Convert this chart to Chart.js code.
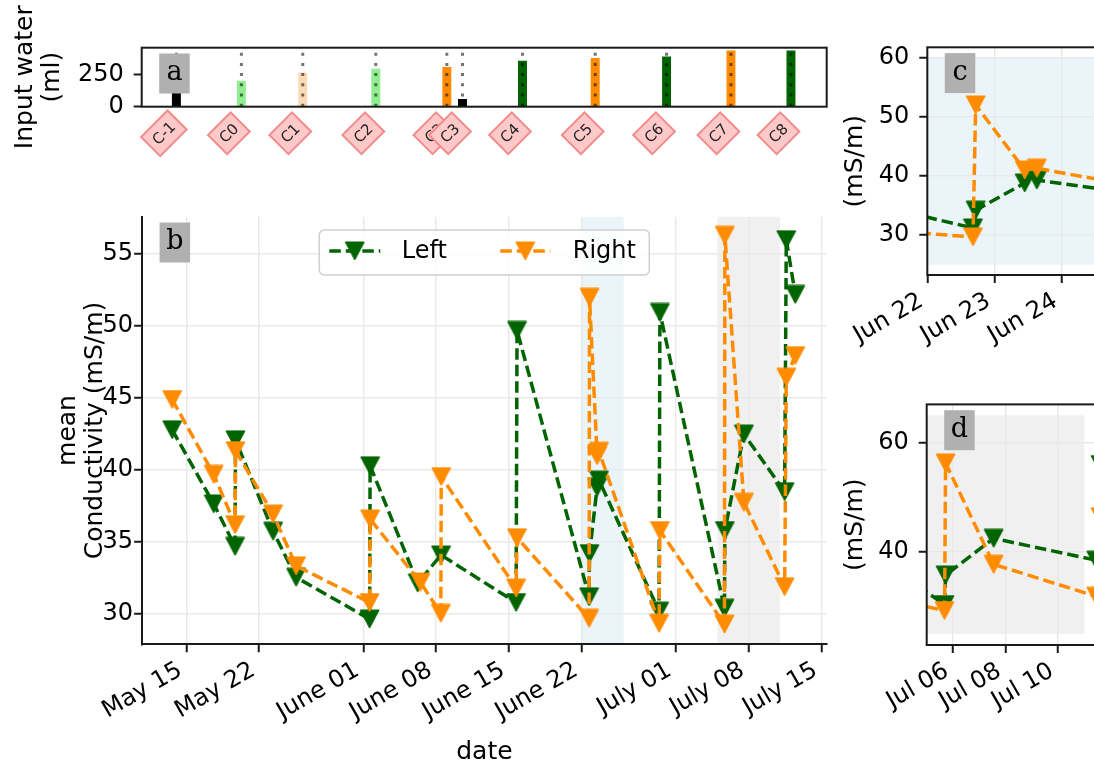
<!DOCTYPE html>
<html>
<head>
<meta charset="utf-8">
<script src="https://cdn.jsdelivr.net/npm/chart.js@4.4.0/dist/chart.umd.min.js"></script>
<style>
html,body{margin:0;padding:0;background:#fff;overflow:hidden;}
#fig{position:relative;width:1094px;height:766px;overflow:hidden;background:#fff;}
canvas{position:absolute;}
</style>
</head>
<body>
<div id="fig">
<canvas id="ca"></canvas>
<canvas id="cb"></canvas>
<canvas id="cc"></canvas>
<canvas id="cd"></canvas>
</div>
<script>
// ---------------- DATA (days counted from May 1, 00:00) ----------------
const xTickDays   = [14, 21, 31, 38, 45, 52, 61, 68, 75];
const xTickLabels = ['May 15', 'May 22', 'June 01', 'June 08', 'June 15', 'June 22', 'July 01', 'July 08', 'July 15'];
const condTicks   = [30, 35, 40, 45, 50, 55];

const leftDays   = [12.64, 16.63, 18.68, 18.72, 22.33, 24.54, 31.60, 31.65, 36.22, 38.46, 45.67, 45.76,
                    52.68, 52.72, 53.45, 53.63, 59.40, 59.48, 65.68, 65.72, 67.55, 71.46, 71.62, 72.48];
const leftValues = [42.8, 37.65, 34.7, 42.1, 35.75, 32.55, 29.65, 40.3, 32.15, 34.1, 30.8, 49.7,
                    31.2, 34.2, 38.8, 39.3, 30.2, 50.95, 30.4, 35.8, 42.5, 38.5, 56.0, 52.2];
const rightDays   = [12.64, 16.63, 18.68, 18.72, 22.33, 24.54, 31.60, 31.65, 36.48, 38.44, 38.48, 45.67, 45.76,
                     52.68, 52.72, 53.45, 53.63, 59.40, 59.48, 65.68, 65.72, 67.55, 71.46, 71.62, 72.48];
const rightValues = [44.9, 39.7, 36.2, 41.35, 36.95, 33.35, 30.8, 36.6, 32.2, 30.05, 39.55, 31.8, 35.3,
                     29.7, 52.0, 41.0, 41.3, 29.35, 35.8, 29.3, 56.3, 37.75, 31.9, 46.45, 47.95];

const waterLabels = ['C-1', 'C0', 'C1', 'C2', 'C3', 'C3', 'C4', 'C5', 'C6', 'C7', 'C8'];
const waterDays   = [13.08, 19.32, 25.21, 32.22, 39.04, 40.54, 46.30, 53.28, 60.13, 66.31, 72.07];
const waterValues = [105, 202, 267, 296, 310, 58, 359, 381, 393, 440, 440];
const waterTicks  = [0, 250];
const waterLineTop = 430;

const shadeBlue = {x0: 52, x1: 56, y0: 25, y1: 60};
const shadeGray = {x0: 65, x1: 71, y0: 25, y1: 65};

const cTickDays = [52, 53, 54];
const cTickLabels = ['Jun 22', 'Jun 23', 'Jun 24'];
const cYTicks = [30, 40, 50, 60];
const dTickDays = [66, 68, 70];
const dTickLabels = ['Jul 06', 'Jul 08', 'Jul 10'];
const dYTicks = [40, 60];

// ---------------- STYLE ----------------
const GREEN = '#006400', ORANGE = '#ff8c00';
const barColors = ['#000000', '#90ee90', '#fdd9b5', '#90ee90', '#ff8c00', '#000000', '#006400', '#ff8c00', '#006400', '#ff8c00', '#006400'];
const BLUE_SHADE = '#ebf4f8', GRAY_SHADE = '#f0f0f0';
const INK = '#1a1a1a', GRID = '#e9e9e9';
const FAMILY = "'DejaVu Sans', sans-serif";
const TICK_FONT = {family: FAMILY, size: 24};
const TITLE_FONT = {family: FAMILY, size: 25, lineHeight: 1.1};
const LINE_W = 3.5, DASH = [11.5, 5];

Chart.defaults.font.family = FAMILY;
Chart.defaults.font.size = 24;
Chart.defaults.color = '#000';

function triMarker(color, w, h) {
  const c = document.createElement('canvas');
  c.width = w + 2; c.height = h + 2;
  const g = c.getContext('2d');
  g.fillStyle = color; g.strokeStyle = color; g.lineWidth = 1; g.lineJoin = 'miter';
  g.beginPath(); g.moveTo(1, 1); g.lineTo(w + 1, 1); g.lineTo(w / 2 + 1, h + 1); g.closePath();
  g.fill(); g.stroke();
  return c;
}
const markG = triMarker(GREEN, 19, 18);
const markO = triMarker(ORANGE, 19, 18);

function place(id, box, area) {
  const c = document.getElementById(id);
  c.width = box[2]; c.height = box[3];
  c.style.left = box[0] + 'px'; c.style.top = box[1] + 'px';
  c.style.width = box[2] + 'px'; c.style.height = box[3] + 'px';
  return {canvas: c, l: area[0] - box[0], t: area[1] - box[1], r: area[2] - box[0], b: area[3] - box[1], w: box[2], h: box[3]};
}
const setTicks = vals => s => { s.ticks = vals.map(v => ({value: v})); };
const labeler = (vals, labs) => v => { const i = vals.indexOf(v); return i >= 0 ? labs[i] : ''; };

function condDatasets() {
  return [
    {type: 'line', label: 'Left', data: leftDays.map((d, i) => ({x: d, y: leftValues[i]})),
     borderColor: GREEN, backgroundColor: GREEN, borderWidth: LINE_W, borderDash: DASH, borderCapStyle: 'butt',
     borderJoinStyle: 'round', pointStyle: markG, pointRadius: 9, pointHoverRadius: 9, tension: 0, fill: false, order: 2},
    {type: 'line', label: 'Right', data: rightDays.map((d, i) => ({x: d, y: rightValues[i]})),
     borderColor: ORANGE, backgroundColor: ORANGE, borderWidth: LINE_W, borderDash: DASH, borderCapStyle: 'butt',
     borderJoinStyle: 'round', pointStyle: markO, pointRadius: 9, pointHoverRadius: 9, tension: 0, fill: false, order: 1}
  ];
}

function shadePlugin(rects) {
  return {id: 'shade', beforeDraw(chart) {
    const {ctx, chartArea: a, scales: {x, y}} = chart;
    ctx.save();
    ctx.beginPath(); ctx.rect(a.left, a.top, a.width, a.height); ctx.clip();
    rects.forEach(r => {
      const x0 = x.getPixelForValue(r.x0), x1 = x.getPixelForValue(r.x1);
      const y0 = y.getPixelForValue(r.y0), y1 = y.getPixelForValue(r.y1);
      ctx.fillStyle = r.color;
      ctx.fillRect(x0, y1, x1 - x0, y0 - y1);
    });
    ctx.restore();
  }};
}
const framePlugin = {id: 'frame', afterDatasetsDraw(chart) {
  const {ctx, chartArea: a} = chart;
  ctx.save(); ctx.strokeStyle = INK; ctx.lineWidth = 2;
  ctx.strokeRect(a.left, a.top, a.width, a.height); ctx.restore();
}};
function letterPlugin(letter) {
  return {id: 'letter', afterDatasetsDraw(chart) {
    const {ctx, chartArea: a} = chart;
    ctx.save();
    ctx.fillStyle = '#b0b0b0';
    ctx.fillRect(a.left + 17.5, a.top + 5.8, 30.5, 40);
    ctx.fillStyle = '#000'; ctx.font = "27px 'DejaVu Serif', serif";
    ctx.textAlign = 'center'; ctx.textBaseline = 'middle';
    ctx.fillText(letter, a.left + 32.75, a.top + 25.3);
    ctx.restore();
  }};
}
const diamondPlugin = {id: 'diamonds', afterDraw(chart) {
  const {ctx, chartArea: a, scales: {x}} = chart;
  ctx.save();
  ctx.font = "15px 'DejaVu Sans', sans-serif";
  waterLabels.forEach((lab, i) => {
    const px = x.getPixelForValue(waterDays[i]) - 12.5;
    const py = a.bottom + 26.6;
    const w = ctx.measureText(lab).width + 12, h = 27;
    ctx.save();
    ctx.translate(px, py); ctx.rotate(-Math.PI / 4);
    ctx.fillStyle = '#ffc9c9'; ctx.strokeStyle = '#f28c8c'; ctx.lineWidth = 2;
    ctx.fillRect(-w / 2, -h / 2, w, h); ctx.strokeRect(-w / 2, -h / 2, w, h);
    ctx.fillStyle = '#222'; ctx.textAlign = 'center'; ctx.textBaseline = 'middle';
    ctx.fillText(lab, 0, 1);
    ctx.restore();
  });
  ctx.restore();
}};
function drawHandle(ctx, x0, x1, y, color, marker) {
  ctx.save(); ctx.strokeStyle = color; ctx.lineWidth = LINE_W; ctx.setLineDash(DASH); ctx.lineCap = 'butt';
  ctx.beginPath(); ctx.moveTo(x0, y); ctx.lineTo(x1, y); ctx.stroke(); ctx.restore();
  ctx.drawImage(marker, (x0 + x1) / 2 - marker.width / 2, y - marker.height / 2);
}
const legendPlugin = {id: 'mlegend', afterDraw(chart) {
  const {ctx, chartArea: a} = chart;
  const bx = a.left + 177.2, by = a.top + 13.3, bw = 330, bh = 45;
  ctx.save();
  ctx.beginPath(); ctx.roundRect(bx, by, bw, bh, 5);
  ctx.fillStyle = 'rgba(255,255,255,0.85)'; ctx.fill();
  ctx.strokeStyle = '#cfcfcf'; ctx.lineWidth = 1.5; ctx.stroke();
  const yy = by + 21;
  drawHandle(ctx, bx + 10, bx + 61, yy, GREEN, markG);
  drawHandle(ctx, bx + 181, bx + 231, yy, ORANGE, markO);
  ctx.fillStyle = '#000'; ctx.font = "24px 'DejaVu Sans', sans-serif"; ctx.textBaseline = 'middle';
  ctx.fillText('Left', bx + 82.4, yy + 1);
  ctx.fillText('Right', bx + 253.4, yy + 1);
  ctx.restore();
}};

const baseOpts = {responsive: false, animation: false, devicePixelRatio: 1, events: [],
  plugins: {legend: {display: false}, tooltip: {enabled: false}}};

// ---------------- PANEL a ----------------
const A = place('ca', [0, 0, 860, 170], [141.7, 47.7, 826.7, 106.7]);
const vlinePoints = [];
waterDays.forEach(d => { vlinePoints.push({x: d, y: 0}, {x: d, y: waterLineTop}, {x: d, y: null}); });
new Chart(A.canvas, {
  type: 'bar',
  data: {datasets: [
    {type: 'line', data: vlinePoints, borderColor: 'rgba(0,0,0,0.55)', borderWidth: 3, borderDash: [3, 7.2],
     borderCapStyle: 'butt', pointRadius: 0, spanGaps: false, order: 0},
    {type: 'bar', data: waterDays.map((d, i) => ({x: d, y: waterValues[i]})), backgroundColor: barColors,
     borderWidth: 0, barThickness: 8.3, order: 1}
  ]},
  options: Object.assign({}, baseOpts, {
    layout: {padding: {left: 0, top: A.t, right: A.w - A.r, bottom: A.h - A.b}},
    scales: {
      x: {type: 'linear', display: false, offset: false, min: 9.75, max: 75.5},
      y: {type: 'linear', min: 0, max: 464, afterBuildTicks: setTicks(waterTicks),
          ticks: {padding: 10, font: TICK_FONT},
          grid: {display: true, drawOnChartArea: false, tickColor: INK, tickWidth: 2, tickLength: 8},
          border: {display: false},
          title: {display: true, text: ['Input water', '(ml)'], font: TITLE_FONT, padding: {top: 11.25, bottom: 0}},
          afterFit: s => { s.width = A.l; }}
    }
  }),
  plugins: [framePlugin, letterPlugin('a'), diamondPlugin]
});

// ---------------- PANEL b ----------------
const B = place('cb', [0, 170, 860, 596], [142.1, 216.7, 826.7, 644.3]);
new Chart(B.canvas, {
  type: 'line',
  data: {datasets: condDatasets()},
  options: Object.assign({}, baseOpts, {
    layout: {padding: {left: 0, top: B.t, right: B.w - B.r, bottom: 0}},
    scales: {
      x: {type: 'linear', min: 9.75, max: 75.5, afterBuildTicks: setTicks(xTickDays),
          ticks: {callback: labeler(xTickDays, xTickLabels), minRotation: 30, maxRotation: 30, autoSkip: false,
                  padding: 4, labelOffset: -6, font: TICK_FONT},
          grid: {color: GRID, lineWidth: 1.5, tickColor: INK, tickWidth: 2, tickLength: 8},
          border: {display: true, color: INK, width: 2},
          title: {display: true, text: 'date', font: TITLE_FONT, padding: {top: 0, bottom: 0}},
          afterFit: s => { s.height = B.h - B.b; }},
      y: {type: 'linear', min: 27.9, max: 57.6, afterBuildTicks: setTicks(condTicks),
          ticks: {padding: 1, font: TICK_FONT},
          grid: {color: GRID, lineWidth: 1.5, tickColor: INK, tickWidth: 2, tickLength: 8},
          border: {display: true, color: INK, width: 2},
          title: {display: true, text: ['mean', 'Conductivity (mS/m)'], font: TITLE_FONT, padding: {top: 54.25, bottom: 0}},
          afterFit: s => { s.width = B.l; }}
    }
  }),
  plugins: [shadePlugin([Object.assign({color: BLUE_SHADE}, shadeBlue), Object.assign({color: GRAY_SHADE}, shadeGray)]),
            letterPlugin('b'), legendPlugin]
});

// ---------------- PANELS c, d ----------------
function zoomChart(P, xmin, xmax, ymin, ymax, xt, xl, yt, shade, letter) {
  return new Chart(P.canvas, {
    type: 'line',
    data: {datasets: condDatasets()},
    options: Object.assign({}, baseOpts, {
      layout: {padding: {left: 0, top: P.t, right: P.w - P.r, bottom: 0}},
      scales: {
        x: {type: 'linear', min: xmin, max: xmax, afterBuildTicks: setTicks(xt),
            ticks: {callback: labeler(xt, xl), minRotation: 30, maxRotation: 30, autoSkip: false, padding: 4,
                    labelOffset: -6, font: TICK_FONT},
            grid: {color: GRID, lineWidth: 1.5, tickColor: INK, tickWidth: 2, tickLength: 8},
            border: {display: false},
            afterFit: s => { s.height = P.h - P.b; }},
        y: {type: 'linear', min: ymin, max: ymax, afterBuildTicks: setTicks(yt),
            ticks: {padding: 10, font: TICK_FONT},
            grid: {color: GRID, lineWidth: 1.5, tickColor: INK, tickWidth: 2, tickLength: 8},
            border: {display: false},
            title: {display: true, text: '(mS/m)', font: TITLE_FONT, padding: {top: 11.25, bottom: 0}},
            afterFit: s => { s.width = P.l; }}
      }
    }),
    plugins: [shadePlugin([shade]), framePlugin, letterPlugin(letter)]
  });
}
const Cp = place('cc', [830, 0, 340, 380], [927.3, 47.3, 1128.9, 275]);
zoomChart(Cp, 52, 55, 23.25, 61.75, cTickDays, cTickLabels, cYTicks, Object.assign({color: BLUE_SHADE}, shadeBlue), 'c');
const Dp = place('cd', [830, 380, 340, 386], [926.7, 401.7, 1136.7, 645]);
zoomChart(Dp, 65, 73, 23, 67, dTickDays, dTickLabels, dYTicks, Object.assign({color: GRAY_SHADE}, shadeGray), 'd');
</script>
</body>
</html>
